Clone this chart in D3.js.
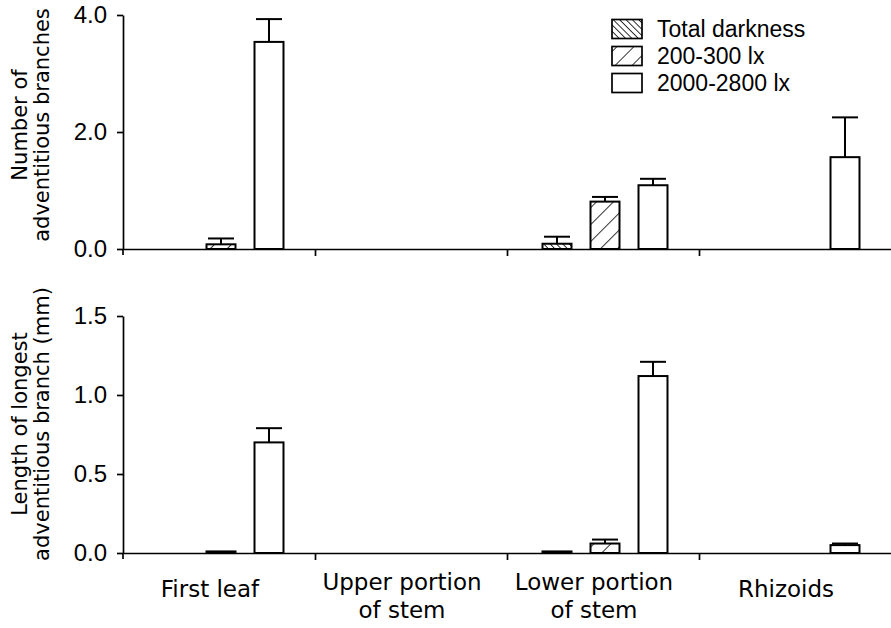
<!DOCTYPE html>
<html>
<head>
<meta charset="utf-8">
<script src="https://cdn.jsdelivr.net/npm/d3@7"></script>
<style>
  body { margin: 0; background: #fff; }
  svg { display: block; }
</style>
</head>
<body>
<script>
// data
const categories = ["First leaf", "Upper portion|of stem", "Lower portion|of stem", "Rhizoids"];
const series = ["Total darkness", "200-300 lx", "2000-2800 lx"];

// number of adventitious branches (mean, SE) per category x series
const branchCount = [[0, 0.08, 3.54], [0, 0, 0], [0.09, 0.81, 1.09], [0, 0, 1.57]];
const branchCountSE = [[0, 0.10, 0.39], [0, 0, 0], [0.12, 0.08, 0.11], [0, 0, 0.68]];

// length of longest adventitious branch in mm (mean, SE)
const branchLength = [[0, 0.01, 0.70], [0, 0, 0], [0.01, 0.06, 1.12], [0, 0, 0.05]];
const branchLengthSE = [[0, 0, 0.09], [0, 0, 0], [0, 0.025, 0.09], [0, 0, 0.01]];

const countTicks = [0, 2, 4];
const lengthTicks = [0, 0.5, 1.0, 1.5];

const width = 891, height = 628;
const svg = d3.select("body").append("svg")
    .attr("width", width)
    .attr("height", height);

// hatch patterns
const defs = svg.append("defs");
function hatch(id, gap, angle, sw) {
    const p = defs.append("pattern")
        .attr("id", id)
        .attr("patternUnits", "userSpaceOnUse")
        .attr("width", gap)
        .attr("height", gap)
        .attr("patternTransform", `rotate(${angle})`);
    p.append("rect").attr("width", gap).attr("height", gap).attr("fill", "#fff");
    p.append("line")
        .attr("x1", 0).attr("y1", 0).attr("x2", 0).attr("y2", gap)
        .attr("stroke", "#000").attr("stroke-width", sw);
}
hatch("dark", 4.5, -45, 1.6);
hatch("dim", 12, 45, 1.6);
const fills = ["url(#dark)", "url(#dim)", "#fff"];

// x scales shared by both panels
const x0 = d3.scaleBand().domain(categories).range([123, 891]);
const x1 = d3.scaleBand().domain(series).range([26, 170])
    .paddingInner(0.396).paddingOuter(0.198);
const xb = d3.scaleLinear().domain([0, 4]).range([123, 891]);

function panel(values, se, yDomain, yRange, ticks, titleLines, titleY) {
    const y = d3.scaleLinear().domain(yDomain).range(yRange);
    const g = svg.append("g");

    // bars
    values.forEach((row, ci) => {
        row.forEach((v, si) => {
            if (v <= 0) return;
            const bx = x0(categories[ci]) + x1(series[si]);
            g.append("rect")
                .attr("x", bx)
                .attr("y", y(v))
                .attr("width", x1.bandwidth())
                .attr("height", y(0) - y(v))
                .attr("fill", fills[si])
                .attr("stroke", "#000")
                .attr("stroke-width", 2);
            const e = se[ci][si];
            if (e > 0) {
                const cx = bx + x1.bandwidth() / 2;
                g.append("line")
                    .attr("x1", cx).attr("x2", cx)
                    .attr("y1", y(v)).attr("y2", y(v + e))
                    .attr("stroke", "#000").attr("stroke-width", 2);
                g.append("line")
                    .attr("x1", cx - 13).attr("x2", cx + 13)
                    .attr("y1", y(v + e)).attr("y2", y(v + e))
                    .attr("stroke", "#000").attr("stroke-width", 2);
            }
        });
    });

    // x axis: a line with ticks on category boundaries
    const xa = g.append("g")
        .attr("transform", `translate(0,${y(0)})`)
        .call(d3.axisBottom(xb).tickValues([1, 2, 3]).tickFormat("").tickSize(7).tickSizeOuter(0));
    xa.selectAll("path, line").attr("stroke", "#000").attr("stroke-width", 1.7);

    // y axis
    const ya = g.append("g")
        .attr("transform", "translate(123,0)")
        .call(d3.axisLeft(y).tickValues(ticks).tickFormat(d3.format(".1f")).tickSize(6).tickPadding(10).tickSizeOuter(0));
    ya.select(".domain").attr("stroke", "#000").attr("stroke-width", 1.7);
    ya.selectAll(".tick line").attr("stroke", "#000").attr("stroke-width", 1.7);
    ya.selectAll(".tick text")
        .style("font-family", "'Liberation Sans', Arial, sans-serif")
        .style("font-size", "24px")
        .attr("fill", "#000");
    // small overshoot of the y axis below zero
    g.append("line")
        .attr("x1", 123).attr("x2", 123)
        .attr("y1", y(0)).attr("y2", y(0) + 6)
        .attr("stroke", "#000").attr("stroke-width", 1.7);

    // y title (two lines, rotated)
    titleLines.forEach((t, i) => {
        g.append("text")
            .attr("transform", `translate(${27 + i * 22},${titleY}) rotate(-90)`)
            .attr("text-anchor", "middle")
            .style("font-family", "'DejaVu Sans', sans-serif")
            .style("font-size", "21px")
            .attr("fill", "#000")
            .text(t);
    });
}

panel(branchCount, branchCountSE, [0, 4], [249, 15], countTicks,
    ["Number of", "adventitious branches"], 125);
panel(branchLength, branchLengthSE, [0, 1.5], [553, 316], lengthTicks,
    ["Length of longest", "adventitious branch (mm)"], 424);

// category labels
categories.forEach(c => {
    const lines = c.split("|");
    const cx = x0(c) + x0.bandwidth() / 2 - 9;
    lines.forEach((t, i) => {
        svg.append("text")
            .attr("x", cx)
            .attr("y", lines.length === 1 ? 597 : 590 + i * 28)
            .attr("text-anchor", "middle")
            .style("font-family", "'DejaVu Sans', sans-serif")
            .style("font-size", "23px")
            .attr("fill", "#000")
            .text(t);
    });
});

// legend
const legend = svg.append("g").attr("transform", "translate(612,0)");
series.forEach((s, i) => {
    const cy = 29 + i * 27;
    legend.append("rect")
        .attr("x", 0).attr("y", cy - 9.5)
        .attr("width", 30).attr("height", 19)
        .attr("fill", fills[i])
        .attr("stroke", "#000").attr("stroke-width", 1.7);
    legend.append("text")
        .attr("x", 45).attr("y", cy + 8)
        .style("font-family", "'Liberation Sans', Arial, sans-serif")
        .style("font-size", "23px")
        .attr("fill", "#000")
        .text(s);
});
</script>
</body>
</html>
